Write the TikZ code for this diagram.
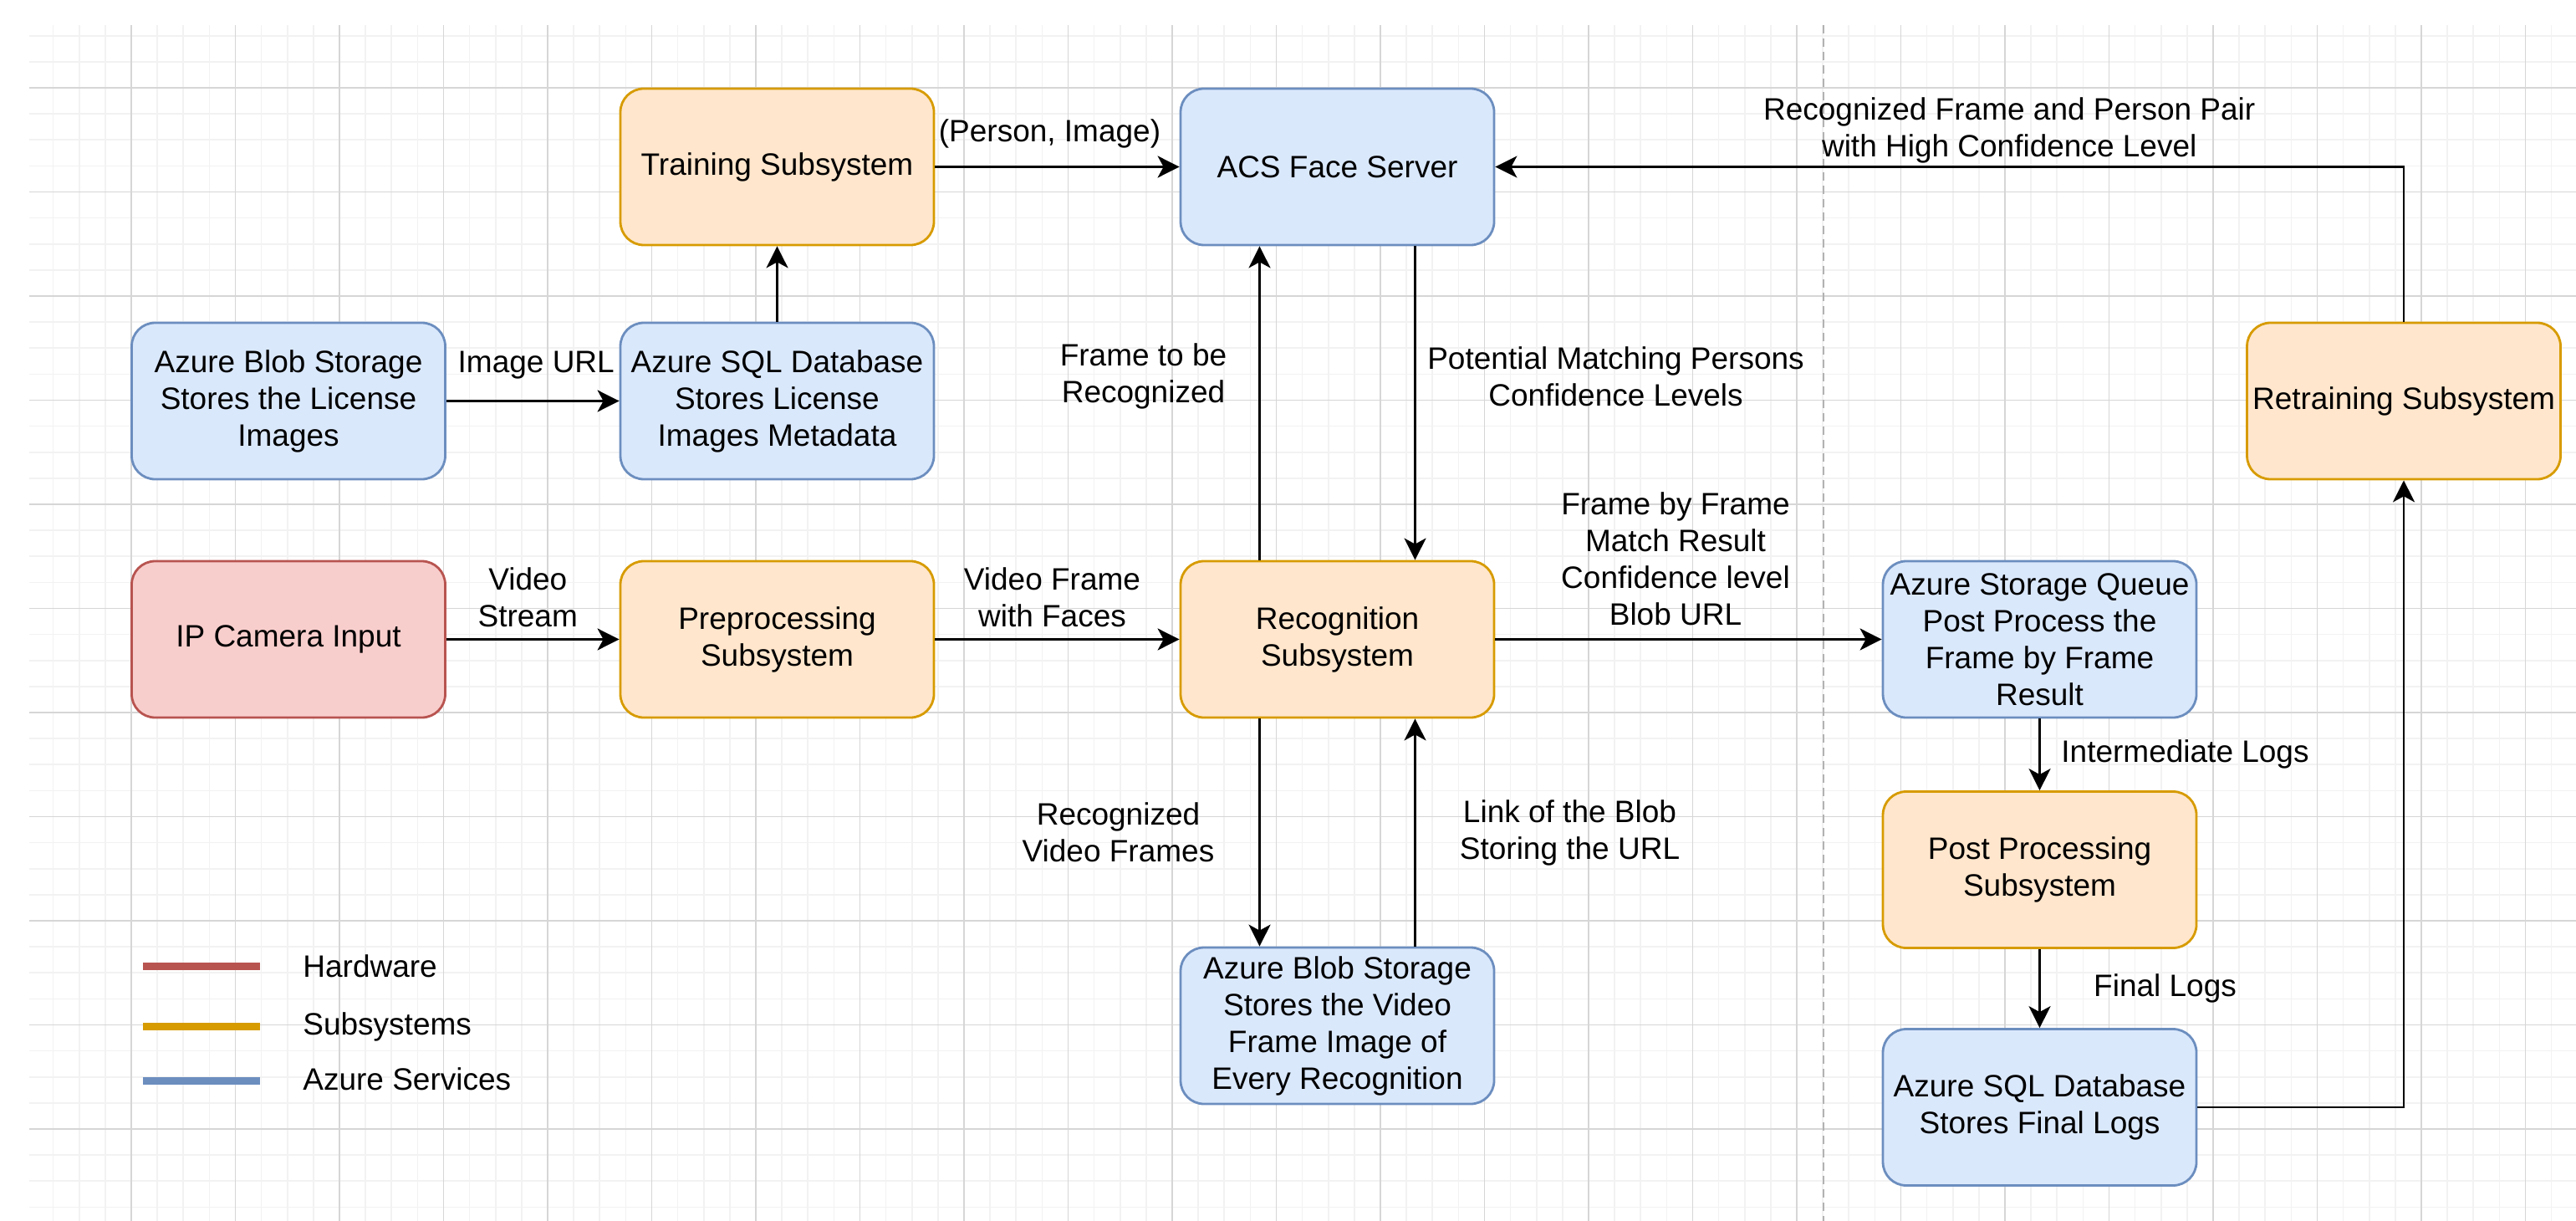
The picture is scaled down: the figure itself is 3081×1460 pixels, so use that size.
\documentclass[tikz,border=0pt]{standalone}
\usepackage{fontspec}
\setmainfont{Liberation Sans}
\usepackage{tikz}
\usetikzlibrary{calc,arrows.meta}

\definecolor{subfill}{HTML}{FFE6CC}
\definecolor{subdraw}{HTML}{D79B00}
\definecolor{azfill}{HTML}{DAE8FC}
\definecolor{azdraw}{HTML}{6C8EBF}
\definecolor{hwfill}{HTML}{F8CECC}
\definecolor{hwdraw}{HTML}{B85450}
\definecolor{gridminor}{HTML}{F2F2F2}
\definecolor{gridmajor}{HTML}{D6D6D6}

\begin{document}
\begin{tikzpicture}
[x=0.5pt,y=-0.5pt,>={Stealth[length=13pt,width=13pt,inset=3.5pt]},
box/.style={draw,line width=1.4pt,rounded corners=14pt,minimum width=187.5pt,minimum height=93.5pt,align=center,inner sep=2pt,font=\fontsize{18.5pt}{22pt}\selectfont},
sub/.style={box,fill=subfill,draw=subdraw},
azure/.style={box,fill=azfill,draw=azdraw},
hw/.style={box,fill=hwfill,draw=hwdraw},
flow/.style={->,line width=1.4pt},
lbl/.style={align=center,inner sep=0pt,font=\fontsize{18.5pt}{22pt}\selectfont},
]

%Page size
\useasboundingbox (0,0) rectangle (3081,1460);

%Background grid
\begin{scope}
\clip (35,30) rectangle (3081,1460);
\foreach \i in {-3,...,94}
  \draw[gridminor,line width=0.8pt] ({157+31.125*\i},30) -- ({157+31.125*\i},1460);
\foreach \j in {-2,...,43}
  \draw[gridminor,line width=0.8pt] (35,{105+31.125*\j}) -- (3081,{105+31.125*\j});
\foreach \i in {0,...,23}
  \draw[gridmajor,line width=0.7pt] ({157+124.5*\i},30) -- ({157+124.5*\i},1460);
\foreach \j in {0,...,10}
  \draw[gridmajor,line width=0.7pt] (35,{105+124.5*\j}) -- (3081,{105+124.5*\j});
\end{scope}

%Separator
\draw[black!30,line width=0.8pt,dash pattern=on 5pt off 3pt] (2181,30) -- (2181,1460);

%Blocks
\node (train) at (929.5,199.5)[sub] {Training Subsystem};
\node (acs) at (1599.5,199.5)[azure] {ACS Face Server};
\node (blobimg) at (345,479.5)[azure] {Azure Blob Storage\\Stores the License\\Images};
\node (sqlimg) at (929.5,479.5)[azure] {Azure SQL Database\\Stores License\\Images Metadata};
\node (retrain) at (2875,479.5)[sub] {Retraining Subsystem};
\node (cam) at (345,764.5)[hw] {IP Camera Input};
\node (prep) at (929.5,764.5)[sub] {Preprocessing\\Subsystem};
\node (recog) at (1599.5,764.5)[sub] {Recognition\\Subsystem};
\node (queue) at (2439.5,764.5)[azure] {Azure Storage Queue\\Post Process the\\Frame by Frame\\Result};
\node (post) at (2439.5,1040)[sub] {Post Processing\\Subsystem};
\node (blobvid) at (1599.5,1226.5)[azure] {Azure Blob Storage\\Stores the Video\\Frame Image of\\Every Recognition};
\node (sqllog) at (2439.5,1324)[azure] {Azure SQL Database\\Stores Final Logs};

%Connections
\draw[flow] (train) -- node[lbl,xshift=-4.5pt,yshift=20pt] {(Person, Image)} (acs);
\draw[flow] (sqlimg) -- (train);
\draw[flow] (blobimg) -- node[lbl,xshift=2pt,yshift=21.5pt] {Image URL} (sqlimg);
\draw[flow] (cam) -- node[lbl,xshift=-3pt,yshift=25pt] {Video\\Stream} (prep);
\draw[flow] (prep) -- node[lbl,xshift=-3pt,yshift=25pt] {Video Frame\\with Faces} (recog);
\draw[flow] ([xshift=-46.5pt]recog.north) -- node[lbl,xshift=-69.5pt,yshift=16pt] {Frame to be\\Recognized} ([xshift=-46.5pt]acs.south);
\draw[flow] ([xshift=46.5pt]acs.south) -- node[lbl,xshift=120pt,yshift=16pt] {Potential Matching Persons\\Confidence Levels} ([xshift=46.5pt]recog.north);
\draw[flow] (recog) -- node[lbl,xshift=-7.75pt,yshift=48pt] {Frame by Frame\\Match Result\\Confidence level\\Blob URL} (queue);
\draw[flow] ([xshift=-46.5pt]recog.south) -- node[lbl,xshift=-84.5pt] {Recognized\\Video Frames} ([xshift=-46.5pt]blobvid.north);
\draw[flow] ([xshift=46.5pt]blobvid.north) -- node[lbl,xshift=92.5pt] {Link of the Blob\\Storing the URL} ([xshift=46.5pt]recog.south);
\draw[flow] (queue) -- node[lbl,xshift=87pt] {Intermediate Logs} (post);
\draw[flow] (post) -- node[lbl,xshift=75pt] {Final Logs} (sqllog);
\draw[flow] (sqllog) -| (retrain);
\draw[flow] (retrain) |- node[lbl,pos=0.75,xshift=35.75pt,yshift=22pt] {Recognized Frame and Person Pair\\with High Confidence Level} (acs);

%Legend
\draw[hwdraw,line width=4.5pt] (171,1155) -- (311,1155);
\draw[subdraw,line width=4.5pt] (171,1227) -- (311,1227);
\draw[azdraw,line width=4.5pt] (171,1292) -- (311,1292);
\node (leghw) at (362,1168)[lbl,anchor=base west] {Hardware};
\node (legsub) at (362,1237)[lbl,anchor=base west] {Subsystems};
\node (legaz) at (362,1303)[lbl,anchor=base west] {Azure Services};

\end{tikzpicture}
\end{document}
